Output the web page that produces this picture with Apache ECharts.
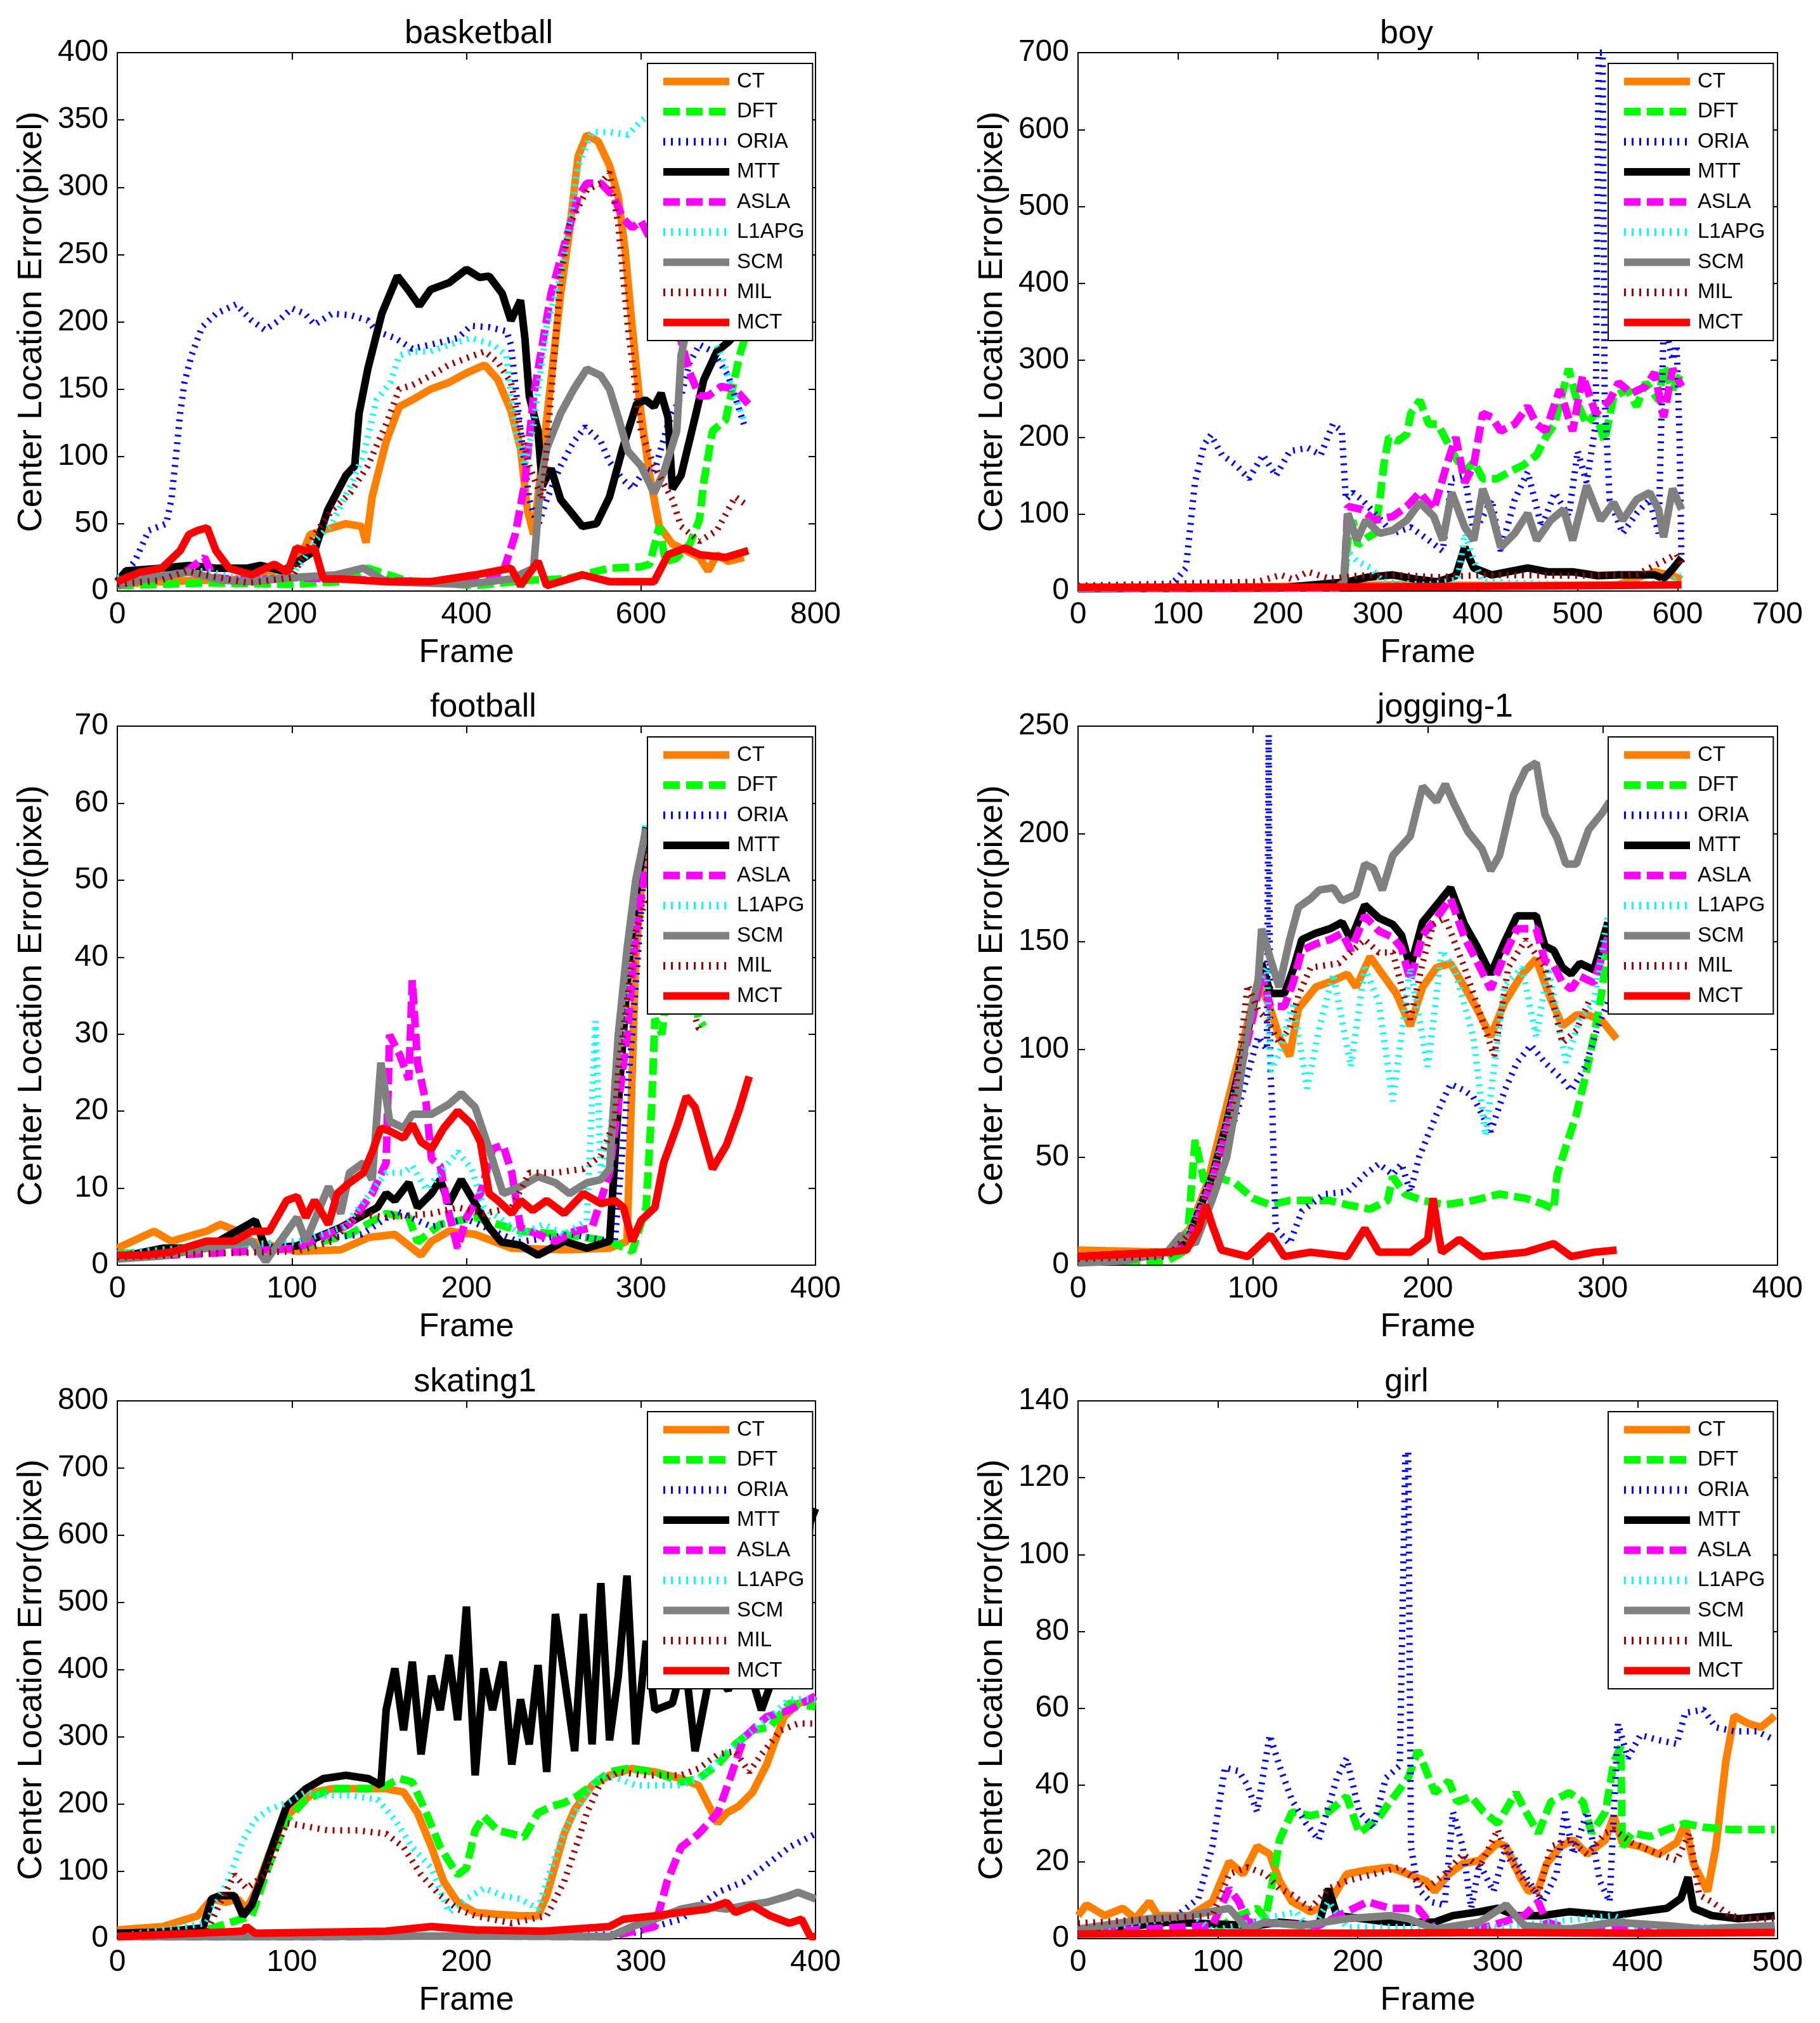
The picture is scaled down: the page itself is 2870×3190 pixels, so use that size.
<!DOCTYPE html>
<html>
<head>
<meta charset="utf-8">
<script src="https://cdn.jsdelivr.net/npm/echarts@6/dist/echarts.min.js"></script>
<style>
  html, body { margin: 0; padding: 0; background: #fff; }
  #main { width: 2870px; height: 3190px; }
</style>
</head>
<body>
<div id="main"></div>
<script>
// methods, in drawing order (later ones on top)
var methods = ['CT', 'DFT', 'ORIA', 'MTT', 'ASLA', 'L1APG', 'SCM', 'MIL', 'MCT'];
var panelTitles = ['basketball', 'boy', 'football', 'jogging-1', 'skating1', 'girl'];
var xMax = [800, 700, 400, 400, 400, 500];
var xStep = [200, 100, 100, 100, 100, 100];
var yMax = [400, 700, 70, 250, 800, 140];
var yStep = [50, 100, 10, 50, 100, 20];

// ---- basketball ----
var basketballCT = [[0,5],[50,7],[100,8],[150,9],[195,15],[210,25],[221,42],[241,46],[262,50],[280,48],[285,36],[292,70],[308,111],[323,137],[338,142],[359,150],[380,155],[400,162],[421,168],[436,157],[451,134],[462,106],[470,60],[477,42],[487,99],[497,157],[508,221],[518,267],[528,323],[538,339],[551,334],[564,316],[574,293],[582,252],[590,196],[600,132],[610,86],[621,48],[636,35],[646,32],[667,25],[677,15],[687,27],[700,22],[718,25]];
var basketballDFT = [[0,4],[100,6],[200,5],[256,7],[287,17],[330,8],[410,4],[470,8],[513,9],[564,17],[600,18],[610,20],[621,48],[628,22],[640,24],[656,35],[667,53],[672,81],[682,119],[697,127],[708,160],[713,175],[720,190]];
var basketballORIA = [[0,7],[20,22],[36,45],[56,50],[62,68],[67,99],[72,132],[77,155],[85,175],[97,196],[113,206],[136,213],[154,201],[169,194],[185,201],[200,210],[215,206],[226,198],[246,206],[267,205],[287,201],[297,193],[318,188],[338,180],[359,183],[390,188],[405,197],[426,196],[446,193],[451,183],[462,119],[472,68],[482,48],[492,68],[508,93],[523,111],[536,122],[554,111],[564,96],[579,83],[590,76],[605,91],[615,88],[631,124],[646,145],[656,170],[667,183],[682,178],[700,160],[710,140],[718,124]];
var basketballMTT = [[0,7],[10,15],[51,17],[82,19],[113,17],[149,17],[164,19],[190,15],[215,25],[226,30],[241,60],[262,86],[272,93],[277,132],[287,165],[303,206],[321,234],[333,224],[346,212],[359,224],[380,229],[400,239],[415,233],[426,234],[441,221],[451,201],[462,216],[467,188],[472,145],[482,119],[487,78],[497,91],[508,68],[518,60],[533,48],[549,50],[564,70],[579,106],[595,139],[605,142],[615,137],[623,147],[631,129],[636,76],[646,86],[662,129],[672,157],[687,178],[700,185],[715,195]];
var basketballASLA = [[0,8],[50,10],[80,15],[100,25],[110,10],[150,8],[200,10],[300,8],[400,6],[440,10],[446,22],[456,42],[467,81],[477,145],[487,183],[497,221],[513,259],[528,293],[538,303],[554,303],[569,293],[579,277],[590,270],[600,275],[620,250],[640,200],[656,162],[667,145],[677,145],[692,152],[708,150],[723,139]];
var basketballL1APG = [[0,10],[50,12],[100,15],[150,8],[200,12],[215,25],[226,37],[246,50],[267,78],[282,101],[297,142],[313,155],[323,175],[338,178],[359,178],[380,183],[405,188],[431,183],[446,175],[451,145],[456,119],[467,93],[477,124],[492,196],[508,234],[518,272],[528,316],[544,341],[564,341],[585,339],[600,349],[615,357],[640,300],[660,230],[680,190],[692,175],[705,150],[718,127]];
var basketballSCM = [[0,4],[40,10],[82,14],[120,8],[154,7],[200,10],[250,12],[282,17],[308,7],[400,5],[451,9],[477,17],[485,81],[492,106],[508,132],[523,150],[538,165],[554,160],[564,150],[574,129],[585,104],[600,93],[615,73],[626,88],[641,119],[646,175],[651,190],[670,210],[700,215],[720,205]];
var basketballMIL = [[0,5],[50,8],[80,15],[100,12],[150,6],[200,10],[226,42],[246,60],[267,73],[287,93],[308,124],[323,150],[338,153],[359,160],[380,168],[400,173],[421,178],[436,170],[451,155],[462,120],[472,93],[487,68],[497,145],[508,234],[518,272],[538,298],[554,303],[564,311],[574,272],[585,196],[600,119],[615,93],[636,68],[646,48],[667,37],[687,45],[708,70],[723,63]];
var basketballMCT = [[0,7],[26,14],[51,17],[72,30],[82,42],[92,45],[103,47],[113,30],[128,17],[154,12],[180,20],[195,14],[205,32],[215,30],[226,32],[236,9],[256,9],[308,7],[359,7],[410,12],[451,17],[462,4],[482,22],[492,4],[533,12],[564,7],[615,7],[631,27],[651,32],[667,27],[697,25],[723,30]];

// ---- boy ----
var boyCT = [[0,5],[150,5],[315,8],[450,7],[540,8],[577,25],[595,20],[604,15]];
var boyDFT = [[0,3],[200,4],[266,10],[270,66],[275,92],[280,60],[290,70],[297,75],[302,119],[306,164],[311,200],[320,195],[329,204],[333,231],[342,248],[351,217],[360,217],[369,195],[378,173],[387,155],[396,168],[405,146],[419,146],[432,155],[446,164],[459,177],[468,200],[477,217],[491,289],[500,244],[509,217],[518,231],[527,195],[536,253],[550,262],[559,240],[568,271],[581,248],[586,293],[595,262],[604,284]];
var boyORIA = [[0,3],[90,5],[99,16],[108,30],[117,141],[126,190],[133,203],[144,177],[158,164],[171,146],[185,177],[198,150],[212,182],[230,186],[243,177],[255,217],[264,208],[268,119],[275,128],[284,119],[297,101],[315,75],[333,83],[351,66],[365,52],[374,146],[387,150],[396,75],[414,119],[423,52],[437,119],[450,155],[464,83],[477,128],[491,97],[500,182],[509,141],[518,217],[521,700],[525,700],[527,253],[532,119],[545,75],[559,101],[572,119],[581,75],[586,342],[590,330],[595,300],[599,320],[602,200],[604,30]];
var boyMTT = [[0,3],[200,4],[270,12],[290,18],[315,21],[340,15],[360,12],[378,20],[387,57],[396,30],[414,21],[450,30],[470,25],[495,25],[520,20],[541,21],[577,21],[586,16],[596,30],[604,43]];
var boyASLA = [[0,3],[260,4],[266,10],[270,110],[284,106],[297,92],[315,97],[329,110],[342,128],[356,106],[369,164],[378,200],[387,141],[396,164],[405,231],[414,226],[423,208],[437,217],[450,240],[459,217],[468,208],[482,262],[495,208],[505,280],[518,231],[532,248],[541,271],[554,257],[568,266],[577,284],[586,226],[595,289],[604,266]];
var boyL1APG = [[0,3],[265,5],[270,52],[279,39],[293,30],[305,12],[350,8],[380,15],[387,75],[396,40],[405,12],[500,8],[590,10],[604,21]];
var boySCM = [[0,4],[260,5],[266,12],[270,101],[279,66],[288,92],[302,75],[315,79],[329,92],[342,115],[356,97],[365,66],[374,128],[387,83],[396,66],[405,133],[414,101],[423,57],[437,75],[450,101],[459,66],[473,92],[486,106],[495,66],[509,137],[523,92],[536,115],[545,92],[559,119],[572,128],[581,106],[586,70],[595,133],[604,106]];
var boyMIL = [[0,7],[180,12],[203,21],[215,15],[230,25],[252,16],[280,20],[315,21],[360,18],[405,21],[500,20],[560,22],[586,39],[599,48],[604,35]];
var boyMCT = [[0,5],[200,5],[400,6],[604,8]];

// ---- football ----
var footballCT = [[0,2.2],[21,4.4],[31,3.1],[51,4.4],[59,5.3],[69,4.4],[77,3.1],[103,1.8],[128,2],[144,3.6],[159,4],[174,1.3],[180,3.1],[190,4.4],[205,4],[226,2.2],[256,2],[282,2.2],[292,3.1],[297,40],[303,57]];
var footballDFT = [[0,1.5],[50,1.8],[103,2.2],[133,4],[154,6.7],[167,6.2],[172,3],[185,5.3],[205,6.2],[231,4.4],[256,4],[282,3.1],[295,1.8],[303,7.5],[306,20],[308,32],[312,30],[320,45],[333,32],[336,31]];
var footballORIA = [[0,1.5],[26,2],[60,2.5],[100,3],[140,4],[160,7],[180,5],[200,6],[230,3],[260,4],[285,3],[295,30],[303,55]];
var footballMTT = [[0,1],[26,2.2],[51,2.2],[72,4.9],[79,5.8],[85,2.2],[103,2.5],[128,4.9],[149,7.5],[154,9.3],[159,8.4],[167,10.7],[172,7.5],[180,9.3],[185,11.1],[190,8],[197,11.1],[205,8],[213,4.9],[220,3],[231,2.6],[241,1.3],[256,3.1],[269,2.2],[282,3.1],[287,20.9],[292,36.6],[297,47.7],[303,57]];
var footballASLA = [[0,1],[51,1.5],[103,2.2],[133,5.3],[146,9.3],[154,13.3],[156,29.9],[162,27.2],[167,24.1],[169,37],[172,26.3],[177,20.9],[180,13.8],[185,12.9],[190,6.7],[195,2.2],[200,6.2],[208,9.3],[215,15.1],[221,15.6],[226,12],[231,4.9],[241,4],[251,3.1],[262,4.4],[272,4.9],[282,12],[287,20.9],[292,29.9],[297,43.3],[303,52]];
var footballL1APG = [[0,1.5],[51,2.5],[103,3],[130,5],[154,12],[164,12],[169,12.9],[177,9.8],[185,12],[195,14.7],[203,12.5],[210,7.5],[221,5.8],[231,4],[244,5.3],[256,4],[269,5.8],[274,31.7],[277,12],[282,16.5],[290,32.1],[297,50],[303,57.5]];
var footballSCM = [[0,0.8],[26,1.2],[51,2.2],[77,3.1],[85,0.5],[103,6.2],[108,3.1],[121,10.2],[128,6.7],[133,12],[141,13.3],[146,11.1],[151,26.3],[156,18.7],[164,17.8],[169,19.6],[180,19.6],[190,20.9],[197,22.3],[205,20.5],[213,15.1],[221,9.3],[231,10.2],[241,11.5],[251,10.7],[259,9.3],[269,10.7],[277,11.1],[282,12.5],[287,29.9],[292,41],[297,50],[303,56.7]];
var footballMIL = [[0,1],[51,1.5],[103,1.8],[123,3.1],[138,6.7],[154,6.2],[180,6.7],[195,7.5],[210,6.7],[226,7.5],[236,12],[251,12],[267,12.5],[277,14.2],[285,18.7],[287,25.4],[292,34.3],[297,43.3],[303,47.7],[320,40],[333,30.8],[336,30.3]];
var footballMCT = [[0,1.3],[15,1.3],[31,1.7],[51,3.1],[67,3.1],[77,4.4],[87,4.4],[97,8.4],[103,8.9],[108,6.2],[113,8.4],[121,5.3],[126,9.3],[133,10.7],[141,12],[146,14.7],[151,17.8],[156,17.4],[164,16.5],[169,18.3],[174,16],[180,15.1],[187,17.8],[195,20],[203,18.3],[208,16],[213,9.3],[218,8.4],[226,6.7],[231,8.4],[238,7.1],[246,8.4],[256,6.7],[267,9.3],[277,8],[285,8.4],[290,7.5],[295,3.1],[300,5.8],[308,7.5],[313,13.3],[321,18.3],[326,21.9],[331,20.5],[336,16.5],[341,12.5],[349,15.6],[356,20],[362,24.5]];

// ---- jogging-1 ----
var joggingCT = [[0,7],[51,6],[64,17],[74,38],[85,74],[95,106],[103,132],[110,119],[115,106],[121,97],[126,119],[136,129],[146,132],[154,135],[159,129],[167,143],[174,135],[182,126],[190,111],[197,129],[205,138],[213,140],[221,129],[228,119],[236,106],[244,122],[254,135],[262,142],[269,126],[277,111],[285,116],[292,116],[300,113],[308,105]];
var joggingDFT = [[0,2],[51,2],[62,7],[67,58],[72,39],[79,41],[90,38],[100,31],[110,28],[121,30],[131,30],[144,30],[154,28],[167,26],[177,30],[180,41],[187,33],[197,30],[210,28],[226,30],[241,33],[256,31],[267,28],[272,26],[274,42],[279,55],[285,70],[290,87],[295,106],[300,129],[303,154]];
var joggingORIA = [[0,2],[51,4],[64,14],[77,34],[92,74],[103,106],[108,100],[109,246],[110,90],[111,74],[113,17],[121,10],[128,25],[141,33],[154,34],[164,42],[172,47],[180,42],[185,47],[190,34],[195,50],[205,70],[213,84],[221,81],[226,78],[231,70],[236,62],[244,81],[251,94],[259,102],[267,94],[277,86],[282,81],[290,92],[297,110],[303,122]];
var joggingMTT = [[0,4],[51,6],[62,10],[69,25],[77,42],[85,66],[92,90],[100,119],[105,140],[110,126],[118,126],[123,137],[128,151],[136,154],[144,156],[151,159],[156,151],[164,167],[172,161],[180,158],[185,153],[190,138],[197,159],[205,167],[213,175],[221,158],[228,148],[236,135],[244,150],[251,162],[262,162],[267,148],[272,146],[277,138],[282,135],[287,140],[295,137],[303,159]];
var joggingASLA = [[0,3],[51,5],[62,9],[69,23],[77,40],[85,63],[92,87],[100,115],[105,135],[110,120],[118,120],[123,131],[128,146],[136,149],[144,151],[151,154],[156,146],[164,162],[172,155],[180,152],[185,147],[190,132],[197,153],[205,161],[213,170],[221,152],[228,141],[236,128],[244,144],[251,156],[262,156],[267,141],[272,139],[277,131],[282,128],[287,134],[295,131],[303,152]];
var joggingL1APG = [[0,2],[51,4],[64,17],[77,42],[90,82],[100,126],[108,138],[110,90],[115,98],[123,122],[131,82],[138,110],[146,135],[156,92],[164,138],[172,122],[180,76],[190,138],[200,92],[208,146],[215,138],[226,106],[233,60],[244,130],[254,138],[262,106],[269,138],[279,94],[287,114],[295,122],[303,162]];
var joggingSCM = [[0,1],[26,2],[51,6],[59,14],[67,10],[77,31],[85,50],[92,82],[97,110],[103,132],[105,156],[110,142],[115,129],[121,151],[126,166],[133,170],[138,174],[146,175],[151,169],[159,172],[164,186],[169,184],[174,174],[180,190],[190,199],[197,222],[205,215],[210,223],[215,214],[223,201],[231,193],[236,183],[241,190],[249,218],[256,230],[262,233],[267,209],[274,198],[279,186],[285,186],[292,202],[300,210],[304,215]];
var joggingMIL = [[0,3],[51,4],[64,15],[77,40],[90,80],[97,130],[103,118],[108,114],[115,103],[121,110],[126,125],[133,138],[149,140],[164,151],[172,145],[180,145],[190,114],[197,140],[203,158],[210,161],[221,138],[231,114],[238,97],[246,138],[256,151],[267,138],[277,103],[285,109],[292,122]];
var joggingMCT = [[0,4],[51,6],[62,7],[69,17],[73,28],[77,18],[82,7],[97,4],[110,14],[118,4],[133,6],[154,4],[164,17],[172,6],[190,6],[200,12],[203,31],[206,15],[208,6],[218,12],[231,4],[256,6],[272,10],[282,4],[295,6],[308,7]];

// ---- skating1 ----
var skatingCT = [[0,13],[26,18],[46,34],[54,59],[62,54],[69,59],[74,44],[79,69],[87,126],[95,177],[103,197],[113,218],[123,223],[138,223],[154,223],[164,218],[172,187],[180,136],[187,85],[195,54],[205,39],[218,36],[231,34],[241,34],[246,64],[251,110],[256,156],[262,192],[272,228],[282,243],[295,253],[308,248],[323,238],[333,228],[338,202],[344,172],[349,187],[356,197],[364,218],[372,259],[377,295],[382,330],[390,350],[400,356]];
var skatingDFT = [[0,5],[51,13],[77,34],[87,110],[97,177],[108,207],[123,223],[144,223],[154,228],[162,238],[169,233],[177,187],[185,136],[190,115],[195,95],[200,105],[205,161],[210,182],[218,161],[226,156],[233,151],[241,187],[249,197],[256,202],[264,213],[272,228],[282,248],[292,253],[308,248],[323,233],[333,238],[344,259],[354,289],[364,310],[374,315],[385,350],[400,345]];
var skatingORIA = [[0,3],[60,5],[70,12],[80,5],[150,4],[250,3],[295,8],[308,18],[323,29],[333,49],[344,69],[359,85],[372,110],[385,136],[400,156]];
var skatingMTT = [[0,8],[26,10],[49,16],[54,59],[59,64],[67,64],[72,34],[77,50],[82,85],[90,146],[97,197],[108,223],[118,238],[131,243],[144,238],[151,228],[154,340],[159,402],[164,310],[169,412],[174,274],[180,391],[185,340],[190,422],[195,325],[200,494],[205,243],[210,402],[215,340],[221,412],[226,259],[231,356],[236,289],[241,407],[246,248],[251,483],[256,391],[262,279],[267,483],[272,289],[277,529],[282,295],[287,391],[292,540],[297,289],[303,443],[308,340],[318,350],[325,420],[331,279],[340,400],[350,370],[360,420],[369,340],[380,420],[390,450],[397,620],[400,640]];
var skatingASLA = [[0,3],[100,3],[200,4],[282,3],[308,18],[315,85],[323,136],[333,156],[344,187],[351,238],[359,299],[372,330],[385,340],[400,361]];
var skatingL1APG = [[0,3],[51,23],[64,90],[72,146],[79,177],[87,192],[97,202],[108,218],[118,213],[133,213],[149,207],[159,177],[169,136],[180,105],[190,39],[200,59],[210,75],[221,64],[231,59],[241,44],[246,85],[256,161],[267,207],[277,243],[287,238],[297,228],[308,228],[323,228],[333,238],[344,264],[354,289],[364,310],[374,330],[385,356],[400,356]];
var skatingSCM = [[0,3],[100,3],[200,4],[282,3],[295,18],[308,29],[323,44],[333,49],[349,44],[359,49],[372,54],[385,64],[390,69],[400,59]];
var skatingMIL = [[0,5],[51,10],[62,69],[67,95],[74,75],[85,95],[97,172],[108,167],[121,161],[138,161],[154,156],[164,136],[174,95],[185,64],[195,44],[205,34],[226,23],[246,34],[256,85],[264,146],[269,187],[277,233],[287,248],[303,243],[323,243],[333,253],[344,274],[354,279],[362,248],[369,274],[380,310],[390,320],[400,320]];
var skatingMCT = [[0,3],[72,11],[74,18],[79,8],[154,11],[180,18],[205,13],[244,11],[282,18],[290,29],[308,34],[323,39],[338,44],[349,54],[354,39],[364,49],[374,34],[385,23],[392,29],[397,3],[400,3]];

// ---- girl ----
var girlCT = [[0,6],[6,8.8],[19,6],[32,7.9],[41,5.2],[51,9.6],[57,6],[80,6],[96,9.6],[108,20],[118,16.8],[128,24],[137,22],[144,15],[153,9.6],[166,7],[179,8.8],[192,16.8],[204,17.7],[223,18.6],[236,16.8],[249,15],[255,12.3],[265,16.8],[275,19.5],[287,20.4],[300,24.9],[306,24],[316,16],[322,12.3],[329,13],[335,19.5],[345,24],[354,25.7],[364,22],[377,25.7],[383,32],[389,25],[402,24],[415,22],[428,25],[434,30],[440,19.5],[450,12.3],[456,24],[463,46],[469,58],[479,56],[488,55],[498,58]];
var girlDFT = [[0,1.6],[96,2],[115,6],[128,7.9],[134,5.2],[140,16.8],[144,25.7],[153,33],[166,32],[179,33],[192,37],[201,27.5],[214,31],[223,35.6],[236,41.8],[243,49],[249,43.6],[255,38],[265,41],[271,35.6],[281,37],[290,33],[300,30],[313,38],[319,33.8],[329,27.5],[338,35.6],[351,38],[361,35.6],[367,27.5],[377,33],[383,46],[388,50],[389,24],[396,27.5],[409,26.6],[421,28.4],[434,30],[447,29],[466,28.4],[479,28.4],[498,28.4]];
var girlORIA = [[0,2.5],[64,4],[86,10.5],[96,24],[105,44.5],[115,43.6],[121,40],[128,33],[137,53],[144,45],[153,36],[163,30],[172,25.7],[185,41.8],[192,47],[201,33],[211,29],[220,41.8],[230,45],[234,126.6],[236,126.6],[238,24],[243,13],[252,9.6],[262,8.7],[268,33],[275,24],[281,7.9],[287,19.5],[297,12.3],[306,24],[316,18.6],[322,15],[332,9.6],[342,16.8],[348,33],[354,22],[364,33],[373,15],[380,9.6],[383,33],[386,56],[393,47],[402,53],[415,51.7],[428,50.7],[434,58.8],[447,59.6],[456,55],[469,54],[485,54],[498,51.7]];
var girlMTT = [[0,1.6],[64,4.3],[128,3.4],[144,4.3],[172,3.4],[179,13],[185,6],[223,4.3],[255,4.3],[268,6],[287,7],[300,7.9],[313,6],[332,6],[351,7],[383,6],[402,7],[421,7.9],[431,10.5],[436,16],[440,7.9],[453,6],[472,5.2],[498,6]];
var girlASLA = [[0,1.6],[96,3.4],[108,13],[115,9.6],[121,4.3],[172,3.4],[192,7],[207,9.6],[223,7.9],[243,7.9],[255,2.5],[287,2.5],[319,6],[329,9.6],[335,4.3],[351,2.5],[498,2.5]];
var girlL1APG = [[0,2],[83,6],[96,2],[156,7],[166,2],[179,9.6],[192,3],[300,3],[383,6],[400,3],[498,3]];
var girlSCM = [[0,2.5],[51,5.2],[80,6],[108,7.9],[121,2.5],[134,4.3],[160,3.4],[192,5.2],[223,6],[236,5.2],[255,2.5],[287,4.3],[306,8.8],[319,3.4],[351,2.5],[383,4.3],[421,3.4],[447,2.5],[498,3.4]];
var girlMIL = [[0,4],[96,6],[108,16.8],[121,18.6],[134,16.8],[144,13],[153,11.4],[166,7.9],[179,13],[192,15],[211,16.8],[230,18.6],[249,13],[262,16.8],[275,22],[287,18.6],[300,28.4],[306,22],[319,15],[329,11.4],[338,24],[351,25.7],[364,22],[377,27.5],[383,28.4],[396,25],[415,22],[428,20.4],[437,27.5],[444,11.4],[453,9.6],[466,6],[479,5.2],[498,5.2]];
var girlMCT = [[0,1.2],[100,1.5],[200,1.4],[300,1.6],[400,1.4],[498,1.6]];

var panelData = [
  [basketballCT, basketballDFT, basketballORIA, basketballMTT, basketballASLA, basketballL1APG, basketballSCM, basketballMIL, basketballMCT],
  [boyCT, boyDFT, boyORIA, boyMTT, boyASLA, boyL1APG, boySCM, boyMIL, boyMCT],
  [footballCT, footballDFT, footballORIA, footballMTT, footballASLA, footballL1APG, footballSCM, footballMIL, footballMCT],
  [joggingCT, joggingDFT, joggingORIA, joggingMTT, joggingASLA, joggingL1APG, joggingSCM, joggingMIL, joggingMCT],
  [skatingCT, skatingDFT, skatingORIA, skatingMTT, skatingASLA, skatingL1APG, skatingSCM, skatingMIL, skatingMCT],
  [girlCT, girlDFT, girlORIA, girlMTT, girlASLA, girlL1APG, girlSCM, girlMIL, girlMCT]
];

// line look of each method (MATLAB style)
var lineLook = {
  CT:    { color: '#ff8000', type: 'solid', width: 12 },
  DFT:   { color: '#00ff00', type: [26, 10], width: 12 },
  ORIA:  { color: '#0000ff', type: [3, 9], width: 10 },
  MTT:   { color: '#000000', type: 'solid', width: 12 },
  ASLA:  { color: '#ff00ff', type: [26, 10], width: 12 },
  L1APG: { color: '#00ffff', type: [3, 9], width: 10 },
  SCM:   { color: '#808080', type: 'solid', width: 12 },
  MIL:   { color: '#a00000', type: [3, 9], width: 10 },
  MCT:   { color: '#ff0000', type: 'solid', width: 12 }
};

// plot boxes in pixels
var boxes = [
  { left: 185, top: 83, width: 1101, height: 849 },
  { left: 1700, top: 83, width: 1103, height: 849 },
  { left: 185, top: 1145, width: 1101, height: 850 },
  { left: 1700, top: 1145, width: 1103, height: 850 },
  { left: 185, top: 2209, width: 1101, height: 848 },
  { left: 1700, top: 2209, width: 1103, height: 848 }
];
var titleCenters = [750, 2213, 757, 2274, 744, 2213];

var FONT = 'Liberation Sans, Arial, sans-serif';
var axisLineStyle = { color: '#000', width: 2 };

var grids = [], xAxes = [], yAxes = [], titles = [], legends = [], series = [];

for (let p = 0; p < 6; p++) {
  var b = boxes[p];
  grids.push({ left: b.left, top: b.top, width: b.width, height: b.height, containLabel: false });

  titles.push({
    text: panelTitles[p],
    left: titleCenters[p],
    top: b.top - 60,
    textAlign: 'center',
    textStyle: { fontFamily: FONT, fontSize: 52, fontWeight: 'normal', color: '#000' }
  });

  // bottom / left axes with labels
  xAxes.push({
    type: 'value', gridIndex: p, min: 0, max: xMax[p], interval: xStep[p],
    name: 'Frame', nameLocation: 'middle', nameGap: 72,
    nameTextStyle: { fontFamily: FONT, fontSize: 52, color: '#000' },
    axisLine: { show: true, onZero: false, lineStyle: axisLineStyle },
    axisTick: { show: true, inside: true, length: 11, lineStyle: axisLineStyle },
    axisLabel: { fontFamily: FONT, fontSize: 48, color: '#000', margin: 14 },
    splitLine: { show: false }
  });
  yAxes.push({
    type: 'value', gridIndex: p, min: 0, max: yMax[p], interval: yStep[p],
    name: 'Center Location Error(pixel)', nameLocation: 'middle', nameGap: 108, nameRotate: 90,
    nameTextStyle: { fontFamily: FONT, fontSize: 54, color: '#000' },
    axisLine: { show: true, onZero: false, lineStyle: axisLineStyle },
    axisTick: { show: true, inside: true, length: 11, lineStyle: axisLineStyle },
    axisLabel: { fontFamily: FONT, fontSize: 48, color: '#000', margin: 14 },
    splitLine: { show: false }
  });

  legends.push({
    data: methods,
    orient: 'vertical',
    left: b.left + 836,
    top: b.top + 17,
    itemWidth: 104,
    itemHeight: 33,
    itemGap: 14.5,
    padding: [12, 13, 12, 19],
    backgroundColor: '#fff',
    borderColor: '#000',
    borderWidth: 2,
    selectedMode: false,
    lineStyle: { width: 12 },
    itemStyle: { opacity: 0 },
    textStyle: { fontFamily: FONT, fontSize: 33, color: '#000', padding: [0, 0, 0, 7] }
  });

  for (let m = 0; m < methods.length; m++) {
    var look = lineLook[methods[m]];
    series.push({
      name: methods[m],
      type: 'line',
      xAxisIndex: p,
      yAxisIndex: p,
      data: panelData[p][m],
      symbol: 'none',
      showSymbol: false,
      clip: true,
      animation: false,
      lineStyle: { color: look.color, width: look.width, type: look.type, cap: 'butt' },
      itemStyle: { color: look.color }
    });
  }
}

// top / right axes: box edges with inward ticks, no labels
for (let p = 0; p < 6; p++) {
  xAxes.push({
    type: 'value', gridIndex: p, position: 'top', min: 0, max: xMax[p], interval: xStep[p],
    axisLine: { show: true, onZero: false, lineStyle: axisLineStyle },
    axisTick: { show: true, inside: true, length: 11, lineStyle: axisLineStyle },
    axisLabel: { show: false },
    splitLine: { show: false }
  });
  yAxes.push({
    type: 'value', gridIndex: p, position: 'right', min: 0, max: yMax[p], interval: yStep[p],
    axisLine: { show: true, onZero: false, lineStyle: axisLineStyle },
    axisTick: { show: true, inside: true, length: 11, lineStyle: axisLineStyle },
    axisLabel: { show: false },
    splitLine: { show: false }
  });
}

var myChart = echarts.init(document.getElementById('main'), null, { renderer: 'canvas' });
myChart.setOption({
  backgroundColor: '#fff',
  animation: false,
  title: titles,
  legend: legends,
  grid: grids,
  xAxis: xAxes,
  yAxis: yAxes,
  series: series
});
</script>
</body>
</html>
